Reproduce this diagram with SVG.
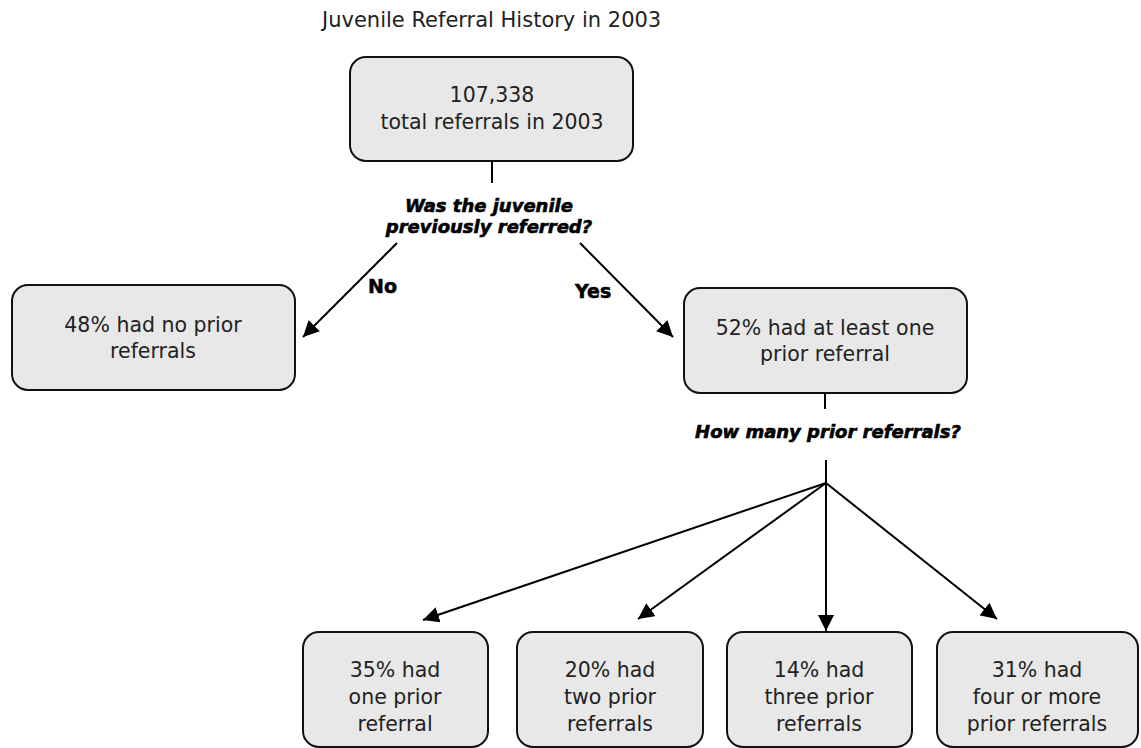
<svg xmlns="http://www.w3.org/2000/svg" width="1141" height="748" viewBox="0 0 1141 748">
<style>
.box{fill:#e8e8e8;stroke:#111;stroke-width:2}
.t{font-family:"DejaVu Sans","Liberation Sans",sans-serif;font-size:20.5px;fill:#222;text-anchor:middle}
.title{font-family:"DejaVu Sans","Liberation Sans",sans-serif;font-size:21px;fill:#222}
.q{font-family:"DejaVu Sans","Liberation Sans",sans-serif;font-size:18px;font-weight:bold;font-style:italic;fill:#000;stroke:#000;stroke-width:0.6;text-anchor:middle}
.lbl{font-family:"DejaVu Sans","Liberation Sans",sans-serif;font-size:19px;font-weight:bold;fill:#000;stroke:#000;stroke-width:0.5}
.c{stroke:#000;stroke-width:2;fill:none}
</style>
<defs>
<marker id="ah" viewBox="0 0 16 16" refX="16" refY="8" markerWidth="16" markerHeight="16" markerUnits="userSpaceOnUse" orient="auto">
<path d="M0,0 L16,8 L0,16 z" fill="#000"/>
</marker>
</defs>
<text class="title" x="322" y="27">Juvenile Referral History in 2003</text>
<g id="connectors">
<line class="c" x1="492" y1="161" x2="492" y2="183"/>
<line class="c" x1="397" y1="243" x2="303" y2="337" marker-end="url(#ah)"/>
<line class="c" x1="580" y1="243" x2="673" y2="337" marker-end="url(#ah)"/>
<line class="c" x1="825" y1="393" x2="825" y2="409"/>
<line class="c" x1="826" y1="460" x2="826" y2="483"/>
<line class="c" x1="826" y1="483" x2="423" y2="620" marker-end="url(#ah)"/>
<line class="c" x1="826" y1="483" x2="638" y2="619" marker-end="url(#ah)"/>
<line class="c" x1="826" y1="483" x2="826" y2="631" marker-end="url(#ah)"/>
<line class="c" x1="826" y1="483" x2="997" y2="619" marker-end="url(#ah)"/>
</g>
<g id="labels">
<text class="q" x="489" y="212">Was the juvenile</text>
<text class="q" x="489" y="233">previously referred?</text>
<text class="lbl" x="368" y="293">No</text>
<text class="lbl" x="575" y="298">Yes</text>
<text class="q" x="828" y="438">How many prior referrals?</text>
</g>
<g id="n-total">
<rect class="box" x="350" y="57" width="283" height="104" rx="16"/>
<text class="t" x="492" y="102">107,338</text>
<text class="t" x="492" y="129">total referrals in 2003</text>
</g>
<g id="n-noprior">
<rect class="box" x="12" y="285" width="283" height="105" rx="16"/>
<text class="t" x="153" y="332">48% had no prior</text>
<text class="t" x="153" y="358">referrals</text>
</g>
<g id="n-prior">
<rect class="box" x="684" y="288" width="283" height="105" rx="16"/>
<text class="t" x="825" y="335">52% had at least one</text>
<text class="t" x="825" y="361">prior referral</text>
</g>
<g id="n-one">
<rect class="box" x="303" y="632" width="185" height="115" rx="16"/>
<text class="t" x="395" y="677">35% had</text>
<text class="t" x="395" y="704">one prior</text>
<text class="t" x="395" y="731">referral</text>
</g>
<g id="n-two">
<rect class="box" x="517" y="632" width="186" height="115" rx="16"/>
<text class="t" x="610" y="677">20% had</text>
<text class="t" x="610" y="704">two prior</text>
<text class="t" x="610" y="731">referrals</text>
</g>
<g id="n-three">
<rect class="box" x="727" y="632" width="185" height="115" rx="16"/>
<text class="t" x="819" y="677">14% had</text>
<text class="t" x="819" y="704">three prior</text>
<text class="t" x="819" y="731">referrals</text>
</g>
<g id="n-four">
<rect class="box" x="937" y="632" width="201" height="115" rx="16"/>
<text class="t" x="1037" y="677">31% had</text>
<text class="t" x="1037" y="704">four or more</text>
<text class="t" x="1037" y="731">prior referrals</text>
</g>
</svg>
